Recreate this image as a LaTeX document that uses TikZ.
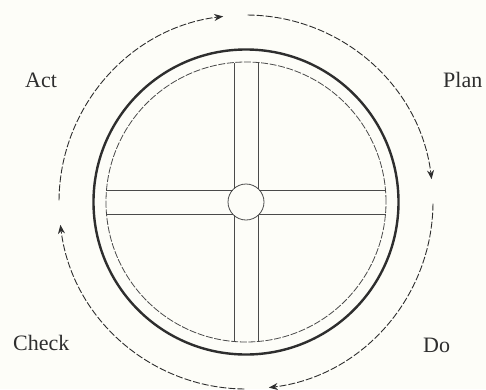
\documentclass[tikz,border=0pt]{standalone}
\usepackage{fontspec}
\setmainfont{Liberation Serif}
\usetikzlibrary{arrows.meta}
\definecolor{Paper}{HTML}{FDFDF8}
\definecolor{Ink}{HTML}{2E2E2E}
\definecolor{InkSoft}{HTML}{4A4A4A}
\tikzset{
  every picture/.append style={>=Stealth},
  rim/.style={draw=Ink, line width=2.4pt},
  ring/.style={draw=InkSoft, line width=0.8pt, dash pattern=on 7pt off 1.6pt},
  spoke/.style={draw=InkSoft, line width=0.8pt},
  hub/.style={circle, draw=InkSoft, line width=0.8pt, minimum size=36pt, inner sep=0pt},
  cyc/.style={draw=Ink, line width=0.9pt, dash pattern=on 7pt off 2pt,
              -{Stealth[length=9pt,width=7pt]}},
  lbl/.style={font=\fontsize{22}{25}\selectfont, text=Ink, anchor=base west, inner sep=0pt},
}

\begin{document}
\begin{tikzpicture}[x=1pt,y=1pt]

% ---------------- frame -------------------------------------------------------
\fill[Paper] (-246,-187) rectangle (240,202);
\useasboundingbox (-246,-187) rectangle (240,202);

% ---------------- wheel -------------------------------------------------------
\draw[rim] (0,0) circle[radius=152.5];
\draw[ring] (0,0) circle[radius=140];
\node[hub] (hb) at (0,0) {};
\foreach \r in {0,90,180,270}{
  \draw[spoke, rotate=\r] (-12,13.4) -- (-12,139.5);
  \draw[spoke, rotate=\r] (12,13.4) -- (12,139.5);
}

% ---------------- cycle arrows -------------------------------------------------
\foreach \a in {179.5,89.5,-0.5,-90.5}
  \draw[cyc] (\a:187) arc[start angle=\a, end angle=\a-82.5, radius=187];

% ---------------- labels ------------------------------------------------------
\node[lbl] (act) at (-221,115) {Act};
\node[lbl] (plan) at (197,115) {Plan};
\node[lbl] (do) at (177,-150) {Do};
\node[lbl] (chk) at (-233,-148) {Check};

\end{tikzpicture}
\end{document}
